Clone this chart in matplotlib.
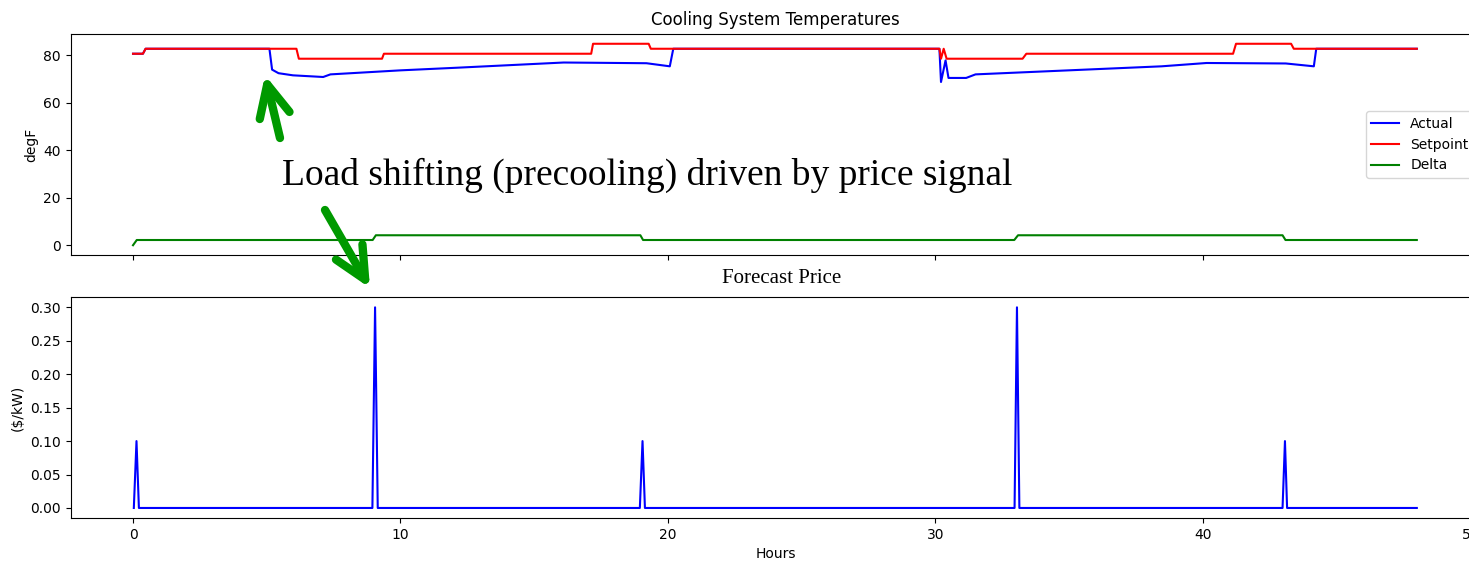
import matplotlib
matplotlib.use("Agg")
import matplotlib.pyplot as plt

# hours / values (line vertices)
actual_t = [0, 0.37, 0.47, 5.1, 5.2, 5.44, 5.98, 7.11, 7.38, 10.0, 12.1, 16.1, 17.2, 19.2,
            20.07, 20.2, 30.15, 30.21, 30.38, 30.49, 31.15, 31.5, 38.46, 40.14, 43.1,
            44.15, 44.24, 48.0]
actual_v = [80.7, 80.7, 82.8, 82.8, 74.0, 72.5, 71.6, 70.9, 72.0, 73.7, 74.8, 77.0, 76.9, 76.7,
            75.4, 82.8, 82.8, 68.8, 77.9, 70.5, 70.5, 72.0, 75.4, 76.8, 76.6,
            75.4, 82.8, 82.8]

setpoint_t = [0, 0.37, 0.47, 6.11, 6.2, 9.31, 9.38, 17.13, 17.2, 19.28, 19.36, 30.15, 30.21,
              30.31, 30.42, 33.26, 33.4, 41.13, 41.24, 43.3, 43.4, 48.0]
setpoint_v = [80.7, 80.7, 82.8, 82.8, 78.6, 78.6, 80.7, 80.7, 84.9, 84.9, 82.8, 82.8, 78.6,
              82.8, 78.6, 78.6, 80.7, 80.7, 84.9, 84.9, 82.8, 82.8]

delta_t = [0, 0.14, 8.96, 9.08, 18.97, 19.07, 32.95, 33.09, 42.98, 43.09, 48.0]
delta_v = [0, 2.2, 2.2, 4.2, 4.2, 2.2, 2.2, 4.2, 4.2, 2.2, 2.2]

price_t = [0.03, 0.13, 0.22, 8.95, 9.05, 9.15, 18.95, 19.05, 19.14, 32.96, 33.05, 33.14,
           42.98, 43.07, 43.15, 48.0]
price_v = [0, 0.1, 0, 0, 0.3, 0, 0, 0.1, 0, 0, 0.3, 0, 0, 0.1, 0, 0]

W, H = 1469, 562
fig = plt.figure(figsize=(W / 100, H / 100), dpi=100)

# axes run past the right edge, like the cropped screenshot
ax1 = fig.add_axes([70.7 / W, 1 - 255.3 / H, (1481 - 70.7) / W, (255.3 - 33.7) / H])
ax2 = fig.add_axes([70.7 / W, 1 - 518 / H, (1481 - 70.7) / W, (518 - 297.3) / H])

ax1.plot(actual_t, actual_v, color="b", label="Actual")
ax1.plot(setpoint_t, setpoint_v, color="r", label="Setpoint")
ax1.plot(delta_t, delta_v, color="g", label="Delta")
ax1.set_title("Cooling System Temperatures", fontsize=12)
ax1.set_ylabel("degF")
ax1.set_xlim(-2.33, 50.4)
ax1.tick_params(labelbottom=False)
ax1.legend(loc="center right")

ax2.plot(price_t, price_v, color="b")
ax2.set_xlim(-2.33, 50.4)
ax2.set_ylabel("($/kW)")
ax2.set_xlabel("Hours")
ax2.set_title("Forecast Price", family="Liberation Serif", fontsize=15, pad=10, x=0.504)

fig.text(282 / W, 1 - 185 / H, "Load shifting (precooling) driven by price signal",
         family="Liberation Serif", fontsize=27, ha="left", va="baseline")

arrow = dict(arrowstyle="->,head_length=1.15,head_width=0.55", color="#009900", lw=6,
             shrinkA=0, shrinkB=0, mutation_scale=20)
ax1.annotate("", xy=(265, H - 75), xytext=(280, H - 138), xycoords="figure pixels",
             textcoords="figure pixels", arrowprops=arrow, annotation_clip=False)
ax1.annotate("", xy=(370, H - 288), xytext=(325, H - 210), xycoords="figure pixels",
             textcoords="figure pixels", arrowprops=arrow, annotation_clip=False)

plt.savefig("out.png")
